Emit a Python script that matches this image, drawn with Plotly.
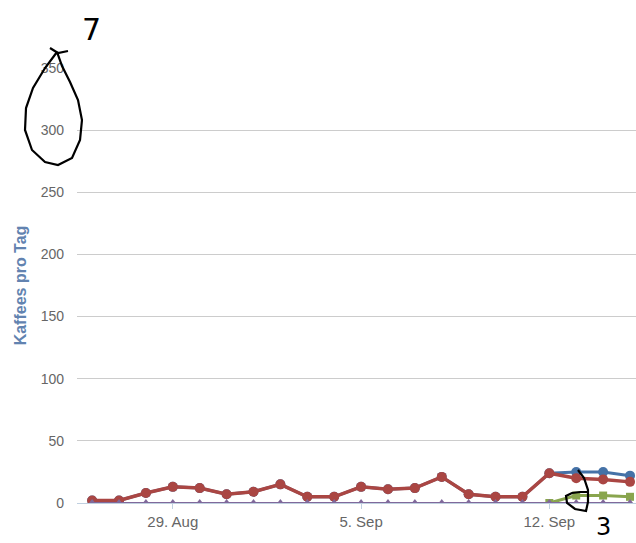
import plotly.graph_objects as go

dates = ["2011-08-26", "2011-08-27", "2011-08-28", "2011-08-29", "2011-08-30", "2011-08-31",
         "2011-09-01", "2011-09-02", "2011-09-03", "2011-09-04", "2011-09-05", "2011-09-06",
         "2011-09-07", "2011-09-08", "2011-09-09", "2011-09-10", "2011-09-11", "2011-09-12",
         "2011-09-13", "2011-09-14", "2011-09-15"]
blue = [2, 2, 8, 13, 12, 7, 9, 15, 5, 5, 13, 11, 12, 21, 7, 5, 5, 24, 25, 25, 22]
red = [2, 2, 8, 13, 12, 7, 9, 15, 5, 5, 13, 11, 12, 21, 7, 5, 5, 24, 20, 19, 17]
green = [None] * 17 + [0, 6, 6, 5]
purple = [0] * 21
y_ticks = [0, 50, 100, 150, 200, 250, 300, 350]
x_ticks = ["2011-08-29", "2011-09-05", "2011-09-12"]

W, H = 636, 543
L, R, T, B = 77, 0, 68, 40


def px(x, y):
    return (x - L) / (W - L - R), (H - B - y) / (H - T - B)


def path(points):
    pts = [px(x, y) for x, y in points]
    return "M " + " L ".join(f"{a:.4f},{b:.4f}" for a, b in pts)


fig = go.Figure()
fig.add_trace(go.Scatter(x=dates, y=blue, mode="lines+markers", name="blue",
                         line=dict(color="#4572A7", width=3),
                         marker=dict(symbol="circle", size=10, color="#4572A7")))
fig.add_trace(go.Scatter(x=dates, y=red, mode="lines+markers", name="red",
                         line=dict(color="#AA4643", width=3.5),
                         marker=dict(symbol="circle", size=10, color="#AA4643")))
fig.add_trace(go.Scatter(x=dates, y=green, mode="lines+markers", name="green",
                         line=dict(color="#89A54E", width=3),
                         marker=dict(symbol="square", size=8, color="#89A54E")))
fig.add_trace(go.Scatter(x=dates, y=purple, mode="lines+markers", name="purple",
                         line=dict(color="#80699B", width=2),
                         marker=dict(symbol="triangle-up", size=8, color="#80699B")))

loop1 = [(57, 52), (45, 68), (33, 88), (26, 108), (25, 130), (32, 150), (45, 162), (58, 165),
         (72, 158), (80, 140), (82, 120), (78, 100), (70, 82), (62, 66), (57, 52)]
cross = [(50, 48), (58, 53), (68, 51)]
loop2 = [(578, 470), (584, 478), (588, 490), (588, 502), (586, 511), (575, 509), (567, 503),
         (566, 496), (572, 493), (580, 492), (588, 492)]

shapes = []
for pts in (loop1, cross, loop2):
    shapes.append(dict(type="path", xref="paper", yref="paper", path=path(pts),
                       line=dict(color="black", width=2.2)))

ax7 = px(91, 30)
ax3 = px(603, 527)
annotations = [
    dict(text="7", x=ax7[0], y=ax7[1], xref="paper", yref="paper", showarrow=False,
         xanchor="center", yanchor="middle",
         font=dict(size=30, color="black", family="DejaVu Sans")),
    dict(text="3", x=ax3[0], y=ax3[1], xref="paper", yref="paper", showarrow=False,
         xanchor="center", yanchor="middle",
         font=dict(size=24, color="black", family="DejaVu Sans")),
]

fig.update_layout(
    width=W, height=H,
    margin=dict(l=L, r=R, t=T, b=B),
    paper_bgcolor="white", plot_bgcolor="white",
    showlegend=False,
    font=dict(family="Liberation Sans, Arial, sans-serif", color="#666666", size=14),
    shapes=shapes,
    annotations=annotations,
    xaxis=dict(
        type="date",
        range=["2011-08-25 10:30", "2011-09-15 05:20"],
        tickvals=x_ticks,
        tickformat="%-d. %b",
        showgrid=False, zeroline=False,
        showline=True, linecolor="#C0D0E0", linewidth=1,
        ticks="outside", ticklen=5, tickcolor="#C0D0E0",
        tickfont=dict(size=15, color="#666666"),
    ),
    yaxis=dict(
        range=[0, 350],
        tickvals=y_ticks,
        showgrid=True, gridcolor="#CCCCCC", gridwidth=1,
        zeroline=False, showline=False, ticks="",
        ticklabelstandoff=12,
        tickfont=dict(size=14, color="#666666"),
        title=dict(text="<b>Kaffees pro Tag</b>",
                   font=dict(size=16, color="#6283b0"), standoff=10),
    ),
)

fig.write_html("out.html", config={"displayModeBar": False},
               post_script="document.body.style.margin='0px';")
